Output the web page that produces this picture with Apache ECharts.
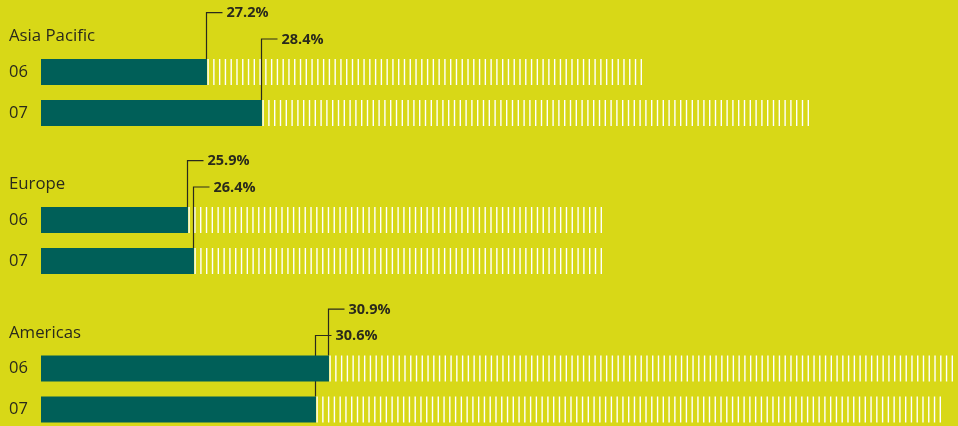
<!DOCTYPE html>
<html>
<head>
<meta charset="utf-8">
<script src="https://cdn.jsdelivr.net/npm/echarts@6/dist/echarts.min.js"></script>
<style>
html,body{margin:0;padding:0;background:#d8d817;}
#chart{width:958px;height:426px;}
</style>
</head>
<body>
<div id="chart"></div>
<script>
// ---- data ----
const groups = ['Asia Pacific', 'Europe', 'Americas'];
const years = ['06', '07'];
// length of the dark (share) bar, in chart units
const shareValues = [[166, 221], [147, 153], [288, 275]];
// full length of the striped (total) bar, in chart units
const totalValues = [[601, 768], [561, 561], [912, 900]];
// printed percentages
const pctValues = [[27.2, 28.4], [25.9, 26.4], [30.9, 30.6]];

// ---- styling ----
const BG = '#d8d817';
const DARK = '#005f58';
const INK = '#2a2a1c';
const BAR_H = 26;
const gridTops = [51.5, 199.5, 348];

const chart = echarts.init(document.getElementById('chart'));

const grids = [], xAxes = [], yAxes = [], series = [], graphics = [];

groups.forEach((g, gi) => {
  grids.push({left: 41, width: 917, top: gridTops[gi], height: 82, outerBoundsMode: 'none', containLabel: false});
  xAxes.push({type: 'value', gridIndex: gi, min: 0, max: 917, show: false});
  yAxes.push({
    type: 'category', gridIndex: gi, data: years, inverse: true,
    axisLine: {show: false}, axisTick: {show: false}, splitLine: {show: false},
    axisLabel: {align: 'left', margin: 32, color: INK, fontFamily: 'Open Sans', fontSize: 16.5}
  });

  // striped total bars
  series.push({
    type: 'custom', xAxisIndex: gi, yAxisIndex: gi, z: 1,
    encode: {x: [0, 1], y: 2},
    data: years.map((y, yi) => [shareValues[gi][yi], totalValues[gi][yi], yi]),
    renderItem: function (params, api) {
      const cat = api.value(2);
      const p0 = api.coord([api.value(0), cat]);
      const p1 = api.coord([api.value(1), cat]);
      const w = 1.4;
      const x0 = p0[0] + 0.4, x1 = p1[0] - w;
      const n = Math.max(1, Math.round((x1 - x0) / 5.77));
      const step = (x1 - x0) / n;
      const children = [];
      for (let i = 0; i <= n; i++) {
        children.push({type: 'rect', shape: {x: x0 + i * step, y: p0[1] - BAR_H / 2, width: w, height: BAR_H},
          style: {fill: '#ffffff'}});
      }
      return {type: 'group', children: children};
    }
  });

  // dark share bars
  series.push({
    type: 'bar', xAxisIndex: gi, yAxisIndex: gi, z: 3,
    barWidth: BAR_H, itemStyle: {color: DARK},
    data: shareValues[gi], silent: true
  });

  // leader lines + percentage labels
  series.push({
    type: 'custom', xAxisIndex: gi, yAxisIndex: gi, z: 2,
    encode: {x: 0, y: 1},
    data: years.map((y, yi) => [shareValues[gi][yi], yi, pctValues[gi][yi]]),
    renderItem: function (params, api) {
      const cat = api.value(1);
      const p = api.coord([api.value(0), cat]);
      const c0 = api.coord([api.value(0), 0])[1];
      const ly = c0 - 59.3 + cat * 26.3;
      const x = Math.round(p[0]) - 0.5;
      return {
        type: 'group',
        children: [
          {type: 'polyline', shape: {points: [[x, p[1] - BAR_H / 2], [x, ly], [x + 16, ly]]},
            style: {stroke: INK, lineWidth: 1.2, fill: null}},
          {type: 'text', x: x + 20, y: ly + 0.5,
            style: {text: api.value(2).toFixed(1) + '%', fill: INK,
              font: 'bold 14.5px "Open Sans"', verticalAlign: 'middle', align: 'left'}}
        ]
      };
    }
  });

  graphics.push({
    type: 'text', left: 9, top: gridTops[gi] + 20.5 - 33 - 11,
    style: {text: g, fill: INK, font: '16.8px "Open Sans"'}
  });
});

chart.setOption({
  backgroundColor: BG,
  animation: false,
  grid: grids, xAxis: xAxes, yAxis: yAxes, series: series, graphic: graphics
});
</script>
</body>
</html>
